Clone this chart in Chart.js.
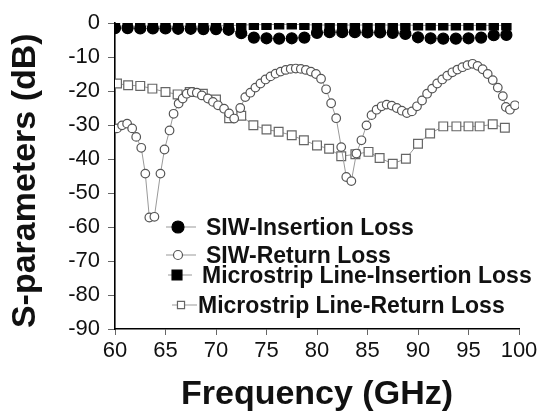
<!DOCTYPE html>
<html>
<head>
<meta charset="utf-8">
<script src="https://cdn.jsdelivr.net/npm/chart.js@4.4.0/dist/chart.umd.min.js"></script>
<style>
  html, body { margin: 0; padding: 0; background: #fff; }
</style>
</head>
<body>
<canvas id="s-chart" width="542" height="418"></canvas>
<script>
// SIW insertion loss (filled circles)
const siwIlFreq = [60, 61.25, 62.5, 63.75, 65, 66.25, 67.5, 68.75, 70, 71.25, 72.5, 73.75, 75, 76.25, 77.5, 78.75,
                   80, 81.25, 82.5, 83.75, 85, 86.25, 87.5, 88.75, 90, 91.25, 92.5, 93.75, 95, 96.25, 97.5, 98.75];
const siwIlDb   = [-1.5, -1.5, -1.6, -1.6, -1.6, -1.7, -1.7, -1.8, -1.8, -2.0, -3.0, -4.3, -4.5, -4.6, -4.5, -4.3,
                   -2.9, -2.7, -2.7, -2.7, -2.8, -2.8, -2.9, -3.2, -4.2, -4.5, -4.6, -4.6, -4.5, -4.3, -3.6, -3.5];

// SIW return loss (open circles)
const siwRlFreq = [60.2, 60.7, 61.2, 61.7, 62.1, 62.6, 63.0, 63.4, 63.9, 64.5, 64.9, 65.4, 65.8, 66.3, 66.7, 67.1,
                   67.6, 68.1, 68.6, 69.2, 69.7, 70.2, 70.8, 71.3, 71.8, 72.4, 72.9, 73.4, 73.9, 74.4, 74.9, 75.4,
                   75.9, 76.4, 76.9, 77.4, 77.9, 78.4, 78.9, 79.4, 79.9, 80.4, 80.9, 81.4, 81.9, 82.4, 82.9, 83.4,
                   83.9, 84.4, 84.9, 85.4, 85.9, 86.4, 86.9, 87.4, 87.9, 88.4, 88.9, 89.4, 89.9, 90.4, 90.9, 91.4,
                   91.9, 92.4, 92.9, 93.4, 93.9, 94.4, 94.9, 95.4, 95.9, 96.4, 96.9, 97.4, 97.9, 98.4, 98.7, 99.1, 99.6];
const siwRlDb   = [-31.0, -30.1, -29.6, -31.0, -33.5, -36.7, -44.3, -57.2, -57.0, -44.3, -37.2, -31.6, -26.7, -23.7, -22.2, -20.8,
                   -20.3, -20.5, -21.3, -22.2, -23.2, -24.2, -25.2, -26.6, -28.1, -25.0, -21.8, -20.5, -19.0, -17.8, -16.6, -15.7,
                   -14.9, -14.3, -13.8, -13.5, -13.4, -13.5, -13.8, -14.3, -15.0, -16.4, -19.5, -23.6, -28.0, -36.5, -45.3, -46.5,
                   -38.4, -34.5, -30.1, -27.1, -25.5, -24.5, -24.0, -24.3, -25.0, -25.8, -26.5, -26.0, -24.5, -22.8, -20.8, -19.3,
                   -17.8, -16.6, -15.5, -14.5, -13.7, -13.0, -12.4, -12.0, -12.6, -13.6, -15.0, -16.8, -19.0, -21.5, -24.7, -25.5, -24.2];

// Microstrip line insertion loss (filled squares)
const msIlFreq = [60, 61.25, 62.5, 63.75, 65, 66.25, 67.5, 68.75, 70, 71.25, 72.5, 73.75, 75, 76.25, 77.5, 78.75,
                  80, 81.25, 82.5, 83.75, 85, 86.25, 87.5, 88.75, 90, 91.25, 92.5, 93.75, 95, 96.25, 97.5, 98.75];
const msIlDb   = [-0.9, -0.9, -0.9, -0.9, -0.9, -0.9, -0.9, -0.9, -0.8, -0.8, -0.6, -0.5, -0.5, -0.4, -0.4, -0.5,
                  -0.6, -0.6, -0.6, -0.6, -0.6, -0.6, -0.6, -0.6, -0.7, -0.7, -0.7, -0.7, -0.7, -0.7, -0.7, -0.7];

// Microstrip line return loss (open squares)
const msRlFreq = [60.2, 61.3, 62.5, 63.7, 65.0, 66.2, 67.4, 68.7, 70.0, 71.3, 72.5, 73.7, 75.0, 76.2, 77.5, 78.7,
                  80.0, 81.2, 82.4, 83.8, 85.1, 86.2, 87.5, 88.8, 90.0, 91.2, 92.5, 93.8, 95.0, 96.1, 97.4, 98.6];
const msRlDb   = [-17.8, -18.3, -18.5, -19.3, -20.3, -21.0, -20.3, -20.8, -22.5, -28.0, -27.3, -30.1, -31.3, -32.0, -33.0, -34.5,
                  -36.0, -37.0, -39.2, -38.6, -37.9, -39.7, -41.4, -39.9, -35.5, -32.5, -30.4, -30.4, -30.4, -30.4, -29.8, -30.8];

const seriesNames = ['SIW-Insertion Loss', 'SIW-Return Loss', 'Microstrip Line-Insertion Loss', 'Microstrip Line-Return Loss'];

const pts = (xs, ys) => xs.map((x, i) => ({ x: x, y: ys[i] }));

const markerStyles = [
  { shape: 'circle', r: 5.5, fill: '#000', stroke: '#000' },
  { shape: 'circle', r: 4.3, fill: '#fff', stroke: '#555' },
  { shape: 'rect',   r: 6.5, fill: '#000', stroke: '#000' },
  { shape: 'rect',   r: 6.2, fill: '#fff', stroke: '#666' }
];

function makeSet(i, xs, ys) {
  const m = markerStyles[i];
  return {
    label: seriesNames[i],
    data: pts(xs, ys),
    borderColor: '#999',
    borderWidth: 1,
    pointStyle: m.shape,
    pointRadius: m.r,
    pointBackgroundColor: m.fill,
    pointBorderColor: m.stroke,
    pointBorderWidth: 1.2,
    tension: 0
  };
}

// legend rows drawn inside the plot
const legendRows = [
  { base: 235, mx: 178, tx: 206, l0: 166, l1: 196, r: 6 },
  { base: 263, mx: 178, tx: 206, l0: 166, l1: 196, r: 4.5 },
  { base: 283, mx: 177, tx: 202, l0: 168, l1: 192, r: 7 },
  { base: 313, mx: 181, tx: 198, l0: 172, l1: 197, r: 5 }
];

const insideLegend = {
  id: 'insideLegend',
  afterDraw(chart) {
    const ctx = chart.ctx;
    ctx.save();
    legendRows.forEach((row, i) => {
      const m = markerStyles[i];
      const cy = row.base - 8;
      ctx.strokeStyle = '#999';
      ctx.lineWidth = 1;
      ctx.beginPath();
      ctx.moveTo(row.l0, cy);
      ctx.lineTo(row.l1, cy);
      ctx.stroke();
      ctx.fillStyle = m.fill;
      ctx.strokeStyle = m.stroke;
      ctx.lineWidth = 1.2;
      ctx.beginPath();
      if (m.shape === 'circle') {
        ctx.arc(row.mx, cy, row.r, 0, Math.PI * 2);
      } else {
        const s = row.r * Math.SQRT1_2;
        ctx.rect(row.mx - s, cy - s, 2 * s, 2 * s);
      }
      ctx.fill();
      ctx.stroke();
      ctx.fillStyle = '#111';
      ctx.font = 'bold 23px "Liberation Sans", Arial, sans-serif';
      ctx.textBaseline = 'alphabetic';
      ctx.textAlign = 'left';
      ctx.fillText(seriesNames[i], row.tx, row.base);
    });
    ctx.restore();
  }
};

const ctx = document.getElementById('s-chart').getContext('2d');

const sChart = new Chart(ctx, {
  type: 'line',
  data: {
    datasets: [
      makeSet(0, siwIlFreq, siwIlDb),
      makeSet(1, siwRlFreq, siwRlDb),
      makeSet(2, msIlFreq, msIlDb),
      makeSet(3, msRlFreq, msRlDb)
    ]
  },
  options: {
    responsive: false,
    animation: false,
    layout: { padding: { left: 0, right: 23, top: 23, bottom: 0 } },
    plugins: {
      legend: { display: false },
      tooltip: { enabled: false }
    },
    scales: {
      x: {
        type: 'linear',
        min: 60,
        max: 100,
        ticks: {
          stepSize: 5,
          padding: 2.5,
          color: '#111',
          font: { family: '"Liberation Sans", Arial, sans-serif', size: 22 }
        },
        grid: { drawOnChartArea: false, tickLength: 6, color: '#666', lineWidth: 1 },
        border: { display: true, color: '#000', width: 1.6 },
        title: {
          display: true,
          text: 'Frequency (GHz)',
          color: '#111',
          font: { family: '"Liberation Sans", Arial, sans-serif', size: 34, weight: 'bold', lineHeight: 1.2 },
          padding: { top: 0, bottom: 2.6 }
        },
        afterFit: (s) => { s.height = 89; }
      },
      y: {
        min: -90,
        max: 0,
        ticks: {
          stepSize: 10,
          padding: 8,
          color: '#111',
          font: { family: '"Liberation Sans", Arial, sans-serif', size: 22 }
        },
        grid: { drawOnChartArea: false, tickLength: 7, color: '#666', lineWidth: 1 },
        border: { display: true, color: '#000', width: 1.6 },
        title: {
          display: true,
          text: 'S-parameters (dB) ',
          color: '#111',
          font: { family: '"Liberation Sans", Arial, sans-serif', size: 34, weight: 'bold', lineHeight: 1.2 },
          padding: { top: 5.6, bottom: 0 }
        },
        afterFit: (s) => { s.width = 115; }
      }
    }
  },
  plugins: [insideLegend]
});
</script>
</body>
</html>
